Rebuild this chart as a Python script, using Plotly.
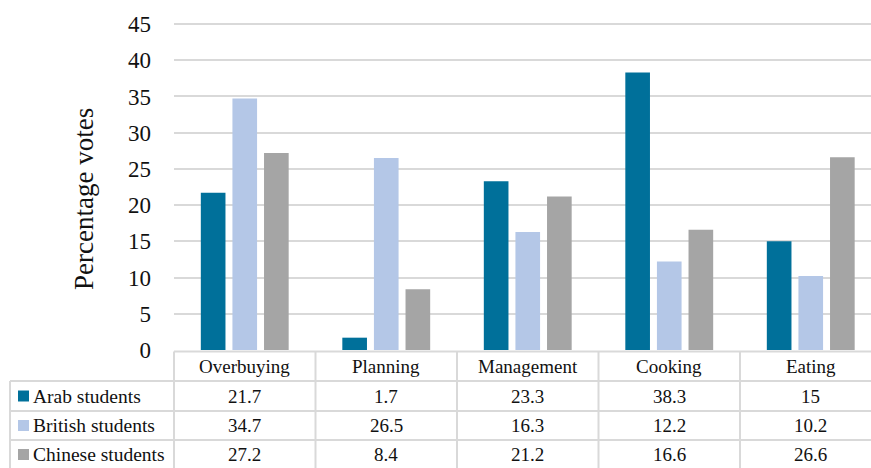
import plotly.graph_objects as go

# Survey results: share of votes per food-waste stage
categories = ["Overbuying", "Planning", "Management", "Cooking", "Eating"]
series_names = ["Arab students", "British students", "Chinese students"]
arab = [21.7, 1.7, 23.3, 38.3, 15]
british = [34.7, 26.5, 16.3, 12.2, 10.2]
chinese = [27.2, 8.4, 21.2, 16.6, 26.6]
colors = ["#00709a", "#b4c7e7", "#a5a5a5"]
y_ticks = [0, 5, 10, 15, 20, 25, 30, 35, 40, 45]

series_values = [arab, british, chinese]

W, H = 871, 468
M_L, M_B = 174, 117
PLOT_W = W - M_L
PLOT_H = H - M_B
PX_PER_UNIT = 326 / 45.0
CAT_PX = 141.5

FONT = "Liberation Serif"
GRID = "#d9d9d9"
TXT = "#111111"


def py(pix):
    """Pixel row -> paper y coordinate."""
    return (PLOT_H - pix) / PLOT_H


def px(pix):
    """Pixel column -> paper x coordinate."""
    return (pix - M_L) / PLOT_W


fig = go.Figure()
for name, vals, col in zip(series_names, series_values, colors):
    fig.add_trace(go.Bar(x=categories, y=vals, name=name,
                         marker=dict(color=col, line=dict(width=0))))

x_hi = -0.5 + PLOT_W / CAT_PX
y_lo = -1 / PX_PER_UNIT
y_hi = 350 / PX_PER_UNIT

shapes = []
annotations = []
line = dict(color=GRID, width=2)

# data-table grid below the plot
shapes.append(dict(type="line", xref="paper", yref="paper",
                   x0=0, x1=1, y0=py(351.5), y1=py(351.5), line=line))
for row_top in [381, 411, 440]:
    shapes.append(dict(type="line", xref="paper", yref="paper",
                       x0=px(10), x1=1, y0=py(row_top), y1=py(row_top), line=line))
shapes.append(dict(type="line", xref="paper", yref="paper",
                   x0=px(10), x1=px(10), y0=py(381), y1=py(480), line=line))
shapes.append(dict(type="line", xref="paper", yref="paper",
                   x0=0, x1=0, y0=py(351.5), y1=py(480), line=line))
for i in range(len(categories) - 1):
    shapes.append(dict(type="line", xref="x", yref="paper",
                       x0=i + 0.5, x1=i + 0.5, y0=py(351.5), y1=py(480), line=line))

# header row: category names
for i, cat in enumerate(categories):
    annotations.append(dict(x=i, y=py(366.5), xref="x", yref="paper", text=cat,
                            showarrow=False, xanchor="center", yanchor="middle",
                            font=dict(family=FONT, size=19, color=TXT)))

# value rows with legend keys
row_centers = [396, 425.5, 454.5]
for name, vals, col, rc in zip(series_names, series_values, colors, row_centers):
    shapes.append(dict(type="rect", xref="paper", yref="paper",
                       x0=px(18), x1=px(29), y0=py(rc - 5.5), y1=py(rc + 5.5),
                       fillcolor=col, line=dict(width=0)))
    annotations.append(dict(x=px(31), y=py(rc), xref="paper", yref="paper", text=name,
                            showarrow=False, xanchor="left", yanchor="middle",
                            font=dict(family=FONT, size=19.5, color=TXT)))
    for i, v in enumerate(vals):
        annotations.append(dict(x=i, y=py(rc), xref="x", yref="paper", text=f"{v:g}",
                                showarrow=False, xanchor="center", yanchor="middle",
                                font=dict(family=FONT, size=19, color=TXT)))

# y-axis title
annotations.append(dict(x=px(84), y=py(199), xref="paper", yref="paper",
                        text="Percentage votes", textangle=-90, showarrow=False,
                        xanchor="center", yanchor="middle",
                        font=dict(family=FONT, size=27, color=TXT)))

fig.update_layout(
    width=W, height=H,
    font=dict(family=FONT, color=TXT),
    margin=dict(l=M_L, r=0, t=0, b=M_B, autoexpand=False),
    paper_bgcolor="white", plot_bgcolor="white",
    barmode="group", bargap=0.33, bargroupgap=0.22,
    showlegend=False,
    shapes=shapes, annotations=annotations,
    xaxis=dict(range=[-0.5, x_hi], showticklabels=False, showgrid=False,
               zeroline=False, showline=False, ticks=""),
    yaxis=dict(range=[y_lo, y_hi], tickvals=y_ticks, showgrid=True,
               gridcolor=GRID, gridwidth=1.5, zeroline=False, showline=False,
               ticks="", ticklabelstandoff=22,
               tickfont=dict(family=FONT, size=23, color=TXT)),
)

fig.write_html("out.html")
